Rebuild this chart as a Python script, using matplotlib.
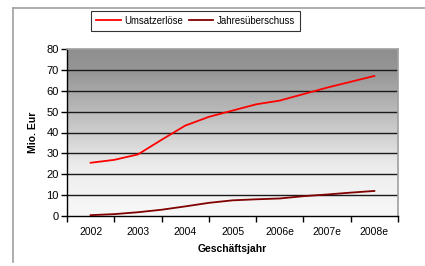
import numpy as np
import matplotlib
matplotlib.use("Agg")
import matplotlib.pyplot as plt
from matplotlib.lines import Line2D
from matplotlib.colors import LinearSegmentedColormap

plt.rcParams['font.family'] = ['Liberation Sans', 'DejaVu Sans']

categories = ["2002", "2003", "2004", "2005", "2006e", "2007e", "2008e"]
# half-year sampled positions along the category axis
positions = [0, 0.5, 1, 1.5, 2, 2.5, 3, 3.5, 4, 4.5, 5, 5.5, 6]
umsatz = [25.5, 26.9, 29.5, 36.5, 43.3, 47.5, 50.5, 53.5, 55.3, 58.4, 61.5, 64.3, 67.1]
ueberschuss = [0.4, 0.9, 1.8, 3.0, 4.6, 6.3, 7.5, 8.0, 8.4, 9.5, 10.3, 11.2, 12.0]
yticks = [0, 10, 20, 30, 40, 50, 60, 70, 80]

fig = plt.figure(figsize=(4.25, 2.66), dpi=100)
ax = fig.add_axes([67/425, 50/266, 331/425, 167/266])

# gradient background
grad = np.linspace(0, 1, 256).reshape(-1, 1)
cmap = LinearSegmentedColormap.from_list(
    "g", [(0.0, "#f8f8f8"), (0.3, "#ececec"), (0.6, "#bebebe"), (0.85, "#979797"), (1.0, "#8e8e8e")])
ax.imshow(grad, aspect='auto', cmap=cmap, origin='lower',
          extent=(-0.5, 6.5, 0, 80), zorder=0)

ax.set_xlim(-0.5, 6.5)
ax.set_ylim(0, 80)

for y in yticks[1:-1]:
    ax.axhline(y, color='#1a1a1a', lw=1.0, zorder=1)

ax.plot(positions, umsatz, color='#ff0000', lw=1.3, label='Umsatzerlöse', zorder=3)
ax.plot(positions, ueberschuss, color='#800000', lw=1.3, label='Jahresüberschuss', zorder=3)

ax.set_yticks(yticks)
ax.set_xticks(np.arange(-0.5, 7.0, 1.0))
ax.set_xticklabels([])
ax.set_xticks(range(len(categories)), minor=True)
ax.set_xticklabels(categories, minor=True, fontsize=7.5)
ax.tick_params(axis='x', which='minor', length=0, pad=8)
ax.tick_params(axis='x', which='major', length=4, width=1, color='black', direction='out')
ax.tick_params(axis='y', length=4, width=1, direction='out', labelsize=8, pad=2)

for s in ['top', 'right']:
    ax.spines[s].set_color('#a0a0a0')
    ax.spines[s].set_linewidth(1.2)
for s in ['left', 'bottom']:
    ax.spines[s].set_color('black')
    ax.spines[s].set_linewidth(1.0)

ax.set_ylabel('Mio. Eur', fontsize=7.5, fontweight='bold', labelpad=6)
ax.set_xlabel('Geschäftsjahr', fontsize=7.5, fontweight='bold', labelpad=5)

leg = fig.legend(loc='upper left', bbox_to_anchor=(91/425, 1 - 11/266), ncol=2,
                 fontsize=6.9, frameon=True, fancybox=False, edgecolor='black',
                 handlelength=2.6, handletextpad=0.35, columnspacing=0.6,
                 borderpad=0.5, borderaxespad=0)
leg.get_frame().set_linewidth(0.8)

# outer chart frame
fig.add_artist(Line2D([12.5/425, 12.5/425], [1 - 7.5/266, 1 - 262/266],
                      transform=fig.transFigure, color='#a0a0a0', lw=1.2))
fig.add_artist(Line2D([12.5/425, 1.0], [1 - 7.5/266, 1 - 7.5/266],
                      transform=fig.transFigure, color='#a0a0a0', lw=1.2))

fig.savefig('out.png', dpi=100)
